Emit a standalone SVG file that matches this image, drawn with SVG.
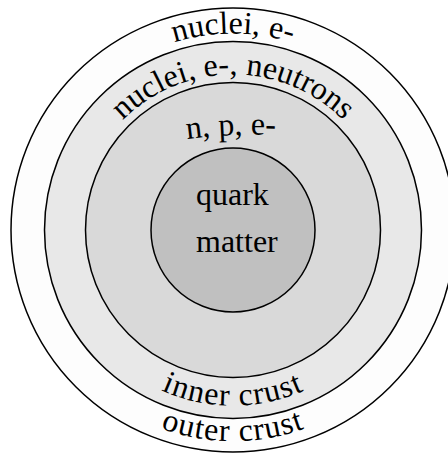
<svg xmlns="http://www.w3.org/2000/svg" xmlns:xlink="http://www.w3.org/1999/xlink" width="448" height="454" viewBox="0 0 448 454">
<style>
.ring{stroke:#000;stroke-width:1.5}
.lbl{font-family:"Liberation Serif","Times New Roman",serif;font-size:32px;fill:#000}
.wide{letter-spacing:1.1px}
</style>
<defs>
<path id="pOuterTop" d="M36.5,230 A196.5,196.5 0 0 1 429.5,230"/>
<path id="pInnerTop" d="M77.5,230 A155.5,155.5 0 0 1 388.5,230"/>
<path id="pInnerBot" d="M57.3,230 A175.7,175.7 0 0 0 408.7,230"/>
<path id="pOuterBot" d="M21.7,230 A211.3,211.3 0 0 0 444.3,230"/>
<path id="pCore" d="M183,139.5 Q235,132 290,136"/>
</defs>
<rect width="448" height="454" fill="#fff"/>
<g id="outer-crust">
<circle class="ring" cx="233" cy="230" r="222" fill="#fdfdfd"/>
<text class="lbl" text-anchor="middle"><textPath xlink:href="#pOuterTop" href="#pOuterTop" startOffset="50%">nuclei, e-</textPath></text>
<text class="lbl wide" text-anchor="middle"><textPath xlink:href="#pOuterBot" href="#pOuterBot" startOffset="50%">outer crust</textPath></text>
</g>
<g id="inner-crust">
<circle class="ring" cx="233" cy="230" r="188.5" fill="#e8e8e8"/>
<text class="lbl" text-anchor="middle"><textPath xlink:href="#pInnerTop" href="#pInnerTop" startOffset="50%">nuclei, e-, neutrons</textPath></text>
<text class="lbl wide" text-anchor="middle"><textPath xlink:href="#pInnerBot" href="#pInnerBot" startOffset="50%">inner crust</textPath></text>
</g>
<g id="core">
<circle class="ring" cx="233" cy="230" r="147.5" fill="#d9d9d9"/>
<text class="lbl"><textPath xlink:href="#pCore" href="#pCore" startOffset="4">n, p, e-</textPath></text>
</g>
<g id="quark-matter">
<circle class="ring" cx="233" cy="230" r="82" fill="#c0c0c0"/>
<text class="lbl" x="196" y="205">quark</text>
<text class="lbl" x="196" y="252">matter</text>
</g>
</svg>
